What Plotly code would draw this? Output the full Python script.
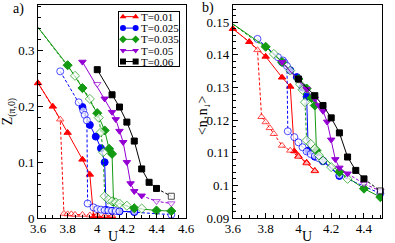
import plotly.graph_objects as go

# ---------------- data ----------------
T_labels = ["T=0.01", "T=0.025", "T=0.035", "T=0.05", "T=0.06"]
colors = ["#ff0000", "#0000ff", "#139a13", "#9400d3", "#000000"]
symbols = ["triangle-up", "circle", "diamond", "triangle-down", "square"]

# T=0.01  (filled = solid branch, open = dashed branch)
U_f1 = [3.6, 3.7, 3.8, 3.9, 3.95, 3.975, 4.0, 4.05, 4.1]
Z_f1 = [0.242, 0.200, 0.153, 0.105, 0.078, 0.003, 0.003, 0.002, 0.002]
n_f1 = [0.148, 0.144, 0.1395, 0.1331, 0.1303, 0.1105, 0.109, 0.107, 0.1045]
U_o1 = [3.6, 3.7, 3.75, 3.775, 3.8, 3.825, 3.85, 3.9, 3.95, 4.0, 4.05, 4.1]
Z_o1 = [0.242, 0.200, 0.177, 0.008, 0.007, 0.007, 0.006, 0.006, 0.005, 0.005, 0.004, 0.004]
n_o1 = [0.148, 0.144, 0.1415, 0.121, 0.1194, 0.1176, 0.1158, 0.1122, 0.1107, 0.1088, 0.1068, 0.1044]

# T=0.025
U_f2 = [3.9, 3.95, 3.99, 4.025, 4.05, 4.06, 4.1, 4.15, 4.25]
Z_f2 = [0.199, 0.167, 0.146, 0.125, 0.100, 0.0145, 0.0128, 0.0118, 0.0108]
n_f2 = [0.1378, 0.1353, 0.1332, 0.1300, 0.1272, 0.1106, 0.1088, 0.1074, 0.1029]
U_o2 = [3.75, 3.875, 3.905, 3.915, 3.93, 3.935, 3.975, 4.0, 4.025, 4.05, 4.075, 4.1, 4.125, 4.15, 4.25, 4.5]
Z_o2 = [0.263, 0.2075, 0.193, 0.185, 0.175, 0.026, 0.019, 0.016, 0.015, 0.014, 0.0135, 0.013, 0.0125, 0.012, 0.011, 0.006]
n_o2 = [0.1449, 0.1393, 0.1383, 0.1376, 0.1366, 0.1166, 0.1148, 0.1132, 0.1117, 0.1104, 0.1096, 0.1090, 0.1083, 0.1076, 0.1031, 0.0975]

# T=0.035
U_f3 = [3.5, 3.8, 3.9, 4.0, 4.05, 4.08, 4.1, 4.11, 4.25, 4.4, 4.5]
Z_f3 = [0.376, 0.274, 0.233, 0.188, 0.157, 0.124, 0.115, 0.029, 0.0175, 0.0135, 0.0125]
n_f3 = [0.1530, 0.1425, 0.1378, 0.1326, 0.1297, 0.1268, 0.1245, 0.1107, 0.1041, 0.0990, 0.0964]
U_o3 = [3.5, 3.85, 3.95, 4.01, 4.025, 4.04, 4.05, 4.075, 4.1, 4.125, 4.15, 4.2, 4.3]
Z_o3 = [0.376, 0.255, 0.2136, 0.180, 0.154, 0.118, 0.039, 0.033, 0.030, 0.028, 0.026, 0.022, 0.017]
n_o3 = [0.1530, 0.1403, 0.1352, 0.1310, 0.1293, 0.1255, 0.1138, 0.1127, 0.1112, 0.1092, 0.1076, 0.1056, 0.1020]

# T=0.05
U_f4 = [3.9, 4.05, 4.1, 4.125, 4.15, 4.175, 4.2, 4.225, 4.25, 4.3]
Z_f4 = [0.280, 0.214, 0.190, 0.177, 0.156, 0.136, 0.100, 0.062, 0.048, 0.040]
n_f4 = [0.1378, 0.1295, 0.1265, 0.1245, 0.1228, 0.1195, 0.1140, 0.1080, 0.1054, 0.1036]
U_o4 = [4.0, None, 4.3, 4.4, 4.5]
Z_o4 = [0.240, None, 0.040, 0.030, 0.026]
n_o4 = [0.1325, None, 0.1036, 0.1005, 0.0983]

# T=0.06
U_f5 = [4.0, 4.1, 4.15, 4.2, 4.25, 4.3, 4.35, 4.4]
Z_f5 = [0.266, 0.221, 0.199, 0.172, 0.138, 0.088, 0.064, 0.053]
n_f5 = [0.1326, 0.1275, 0.1245, 0.1207, 0.1161, 0.1087, 0.1046, 0.1020]
U_o5 = [4.4, 4.5]
Z_o5 = [0.053, 0.039]
n_o5 = [0.1020, 0.0983]

filled = [(U_f1, Z_f1, n_f1), (U_f2, Z_f2, n_f2), (U_f3, Z_f3, n_f3), (U_f4, Z_f4, n_f4), (U_f5, Z_f5, n_f5)]
opened = [(U_o1, Z_o1, n_o1), (U_o2, Z_o2, n_o2), (U_o3, Z_o3, n_o3), (U_o4, Z_o4, n_o4), (U_o5, Z_o5, n_o5)]

# ---------------- figure ----------------
FONT = "Liberation Serif"
MSIZES = [6.5, 7, 7, 6.5, 6]
fig = go.Figure()


def open_sizes(uo, vo, uf, vf, s):
    pts = set(zip(uf, vf))
    return [0 if (u, v) in pts else s for u, v in zip(uo, vo)]


for panel, (xa, ya) in enumerate([("x", "y"), ("x2", "y2")]):
    for i in range(5):
        uf, zf, nf = filled[i]
        uo, zo, no = opened[i]
        vf = zf if panel == 0 else nf
        vo = zo if panel == 0 else no
        clip = (i == 2)
        ms = MSIZES[i]
        fig.add_trace(go.Scatter(
            x=uf, y=vf, xaxis=xa, yaxis=ya, mode="lines+markers",
            line=dict(color=colors[i], width=1),
            marker=dict(symbol=symbols[i], size=ms, color=colors[i],
                        line=dict(color=colors[i], width=1)),
            cliponaxis=clip, showlegend=False, hoverinfo="skip"))
        fig.add_trace(go.Scatter(
            x=uo, y=vo, xaxis=xa, yaxis=ya, mode="lines+markers",
            line=dict(color=colors[i], width=1, dash="3px,2px"),
            marker=dict(symbol=symbols[i], size=open_sizes(uo, vo, uf, vf, ms),
                        color="white", line=dict(color=colors[i], width=1)),
            connectgaps=False, cliponaxis=clip, showlegend=False, hoverinfo="skip"))

# custom legend box (own small axes)
leg_rows = [4.7, 16.2, 27.5, 38.8, 49.8]
for i in range(5):
    fig.add_trace(go.Scatter(
        x=[4.5, 17.5], y=[leg_rows[i], leg_rows[i]], xaxis="x3", yaxis="y3",
        mode="lines+markers", line=dict(color=colors[i], width=1),
        marker=dict(symbol=symbols[i], size=6, color=colors[i]),
        cliponaxis=False, showlegend=False, hoverinfo="skip"))
    fig.add_annotation(x=21, y=leg_rows[i], xref="x3", yref="y3", text=T_labels[i],
                       showarrow=False, xanchor="left", yanchor="middle",
                       font=dict(family=FONT, size=11, color="black"))

W, H = 395, 243
ML, MR, MT, MB = 38, 4, 4, 25
pw = W - ML - MR
ph = H - MT - MB


def px(x):
    return (x - ML) / pw


def py(y):
    return (H - MB - y) / ph


axis_common = dict(showline=True, mirror=True, linecolor="black", linewidth=1,
                   ticks="inside", ticklen=5, tickcolor="black", showgrid=False,
                   zeroline=False, tickfont=dict(family=FONT, size=13, color="black"))

fig.update_layout(
    width=W, height=H, margin=dict(l=ML, r=MR, t=MT, b=MB),
    paper_bgcolor="white", plot_bgcolor="white", showlegend=False,
    xaxis=dict(domain=[0, px(190)], range=[3.6, 4.6], tick0=3.6, dtick=0.2, anchor="y",
               ticklabelstandoff=-2,
               minor=dict(ticks="inside", ticklen=3, dtick=0.05, tick0=3.6, tickcolor="black"),
               **axis_common),
    yaxis=dict(domain=[0, 1], range=[0, 0.382], tick0=0, dtick=0.1, anchor="x",
               minor=dict(ticks="inside", ticklen=3, dtick=0.02, tick0=0, tickcolor="black"),
               **axis_common),
    xaxis2=dict(domain=[px(238), 1], range=[3.6, 4.51], tick0=3.6, dtick=0.2, anchor="y2",
                ticklabelstandoff=-2,
                minor=dict(ticks="inside", ticklen=3, dtick=0.05, tick0=3.6, tickcolor="black"),
                **axis_common),
    yaxis2=dict(domain=[0, 1], range=[0.09, 0.1553], tick0=0.09, dtick=0.01, anchor="x2",
                minor=dict(ticks="inside", ticklen=3, dtick=0.002, tick0=0.09, tickcolor="black"),
                **axis_common),
    xaxis3=dict(domain=[px(120.7), px(182.7)], range=[0, 62], anchor="y3",
                showline=True, mirror=True, linecolor="black", linewidth=1,
                showticklabels=False, ticks="", showgrid=False, zeroline=False, fixedrange=True),
    yaxis3=dict(domain=[py(65.7), py(11)], range=[54.7, 0], anchor="x3",
                showline=True, mirror=True, linecolor="black", linewidth=1,
                showticklabels=False, ticks="", showgrid=False, zeroline=False, fixedrange=True),
)

tfont = dict(family=FONT, size=14, color="black")
ann = [
    dict(text="a)", x=px(18), y=py(8)),
    dict(text="b)", x=px(212), y=py(7)),
    dict(text="Z<sub>(π,0)</sub>", x=px(8), y=py(111), textangle=-90),
    dict(text="&lt;n<sub>↑</sub>n<sub>↓</sub>&gt;", x=px(208), y=py(115), textangle=-90),
    dict(text="U", x=px(115), y=py(237)),
    dict(text="U", x=px(314), y=py(237)),
]
for a in ann:
    fig.add_annotation(xref="paper", yref="paper", showarrow=False,
                       xanchor="center", yanchor="middle", font=tfont, **a)

fig.write_html("out.html", config={"displayModeBar": False},
               post_script="document.body.style.margin='0px';")
